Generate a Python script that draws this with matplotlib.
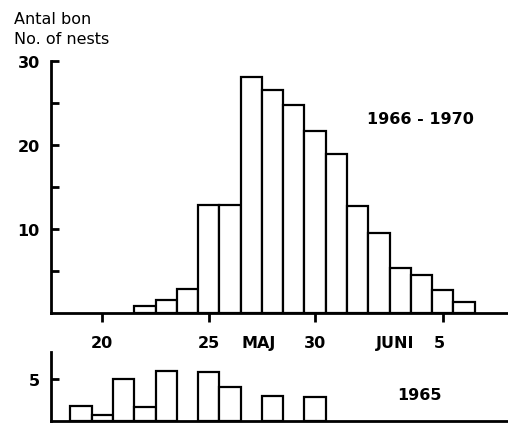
import matplotlib
matplotlib.use("Agg")
import matplotlib.pyplot as plt

# 1966-1970: nests started per day (day of May; 32 = 1 June)
days_a = [22, 23, 24, 25, 26, 27, 28, 29, 30, 31, 32, 33, 34, 35, 36, 37]
nests_a = [0.8, 1.6, 2.8, 12.8, 12.8, 28.1, 26.5, 24.7, 21.6, 18.9, 12.7, 9.5, 5.3, 4.5, 2.7, 1.3]

# 1965
days_b = [19, 20, 21, 22, 23, 25, 26, 28, 30]
nests_b = [1.8, 0.7, 5.0, 1.6, 5.9, 5.8, 4.1, 3.0, 2.9]

xtick_pos = [20, 25, 30, 36]
xlab_pos = [20, 25, 27.35, 30, 33.75, 35.85]
xlab_txt = ['20', '25', 'MAJ', '30', 'JUNI', '5']

W, H = 508, 427
fig = plt.figure(figsize=(W / 100, H / 100), dpi=100)

lw = 2.0
bold = dict(fontweight='bold', fontsize=11.5, family='DejaVu Sans')

# upper panel
ax = fig.add_axes([51 / W, 1 - 314 / H, (W - 51) / W + 0.01, 252.3 / H])
ax.bar(days_a, nests_a, width=1, facecolor='white', edgecolor='black', linewidth=1.6)
ax.set_xlim(17.59, 39.3)
ax.set_ylim(0, 30)
for s in ['top', 'right']:
    ax.spines[s].set_visible(False)
for s in ['left', 'bottom']:
    ax.spines[s].set_linewidth(lw)
ax.set_yticks([10, 20, 30])
ax.set_yticklabels(['10', '20', '30'], **bold)
ax.set_yticks([5, 15, 25], minor=True)
ax.tick_params(axis='y', which='both', direction='in', length=6, width=lw, pad=8)
ax.set_xticks(xtick_pos)
ax.set_xticklabels([])
ax.tick_params(axis='x', direction='out', length=6.5, width=lw)
for xp, t in zip(xlab_pos, xlab_txt):
    ax.text(xp, -0.136, t, transform=ax.get_xaxis_transform(),
            ha='center', va='baseline', **bold)

# lower panel
ax2 = fig.add_axes([51 / W, 1 - 421.7 / H, (W - 51) / W + 0.01, 68.4 / H])
ax2.bar(days_b, nests_b, width=1, facecolor='white', edgecolor='black', linewidth=1.6)
ax2.set_xlim(17.59, 39.3)
ax2.set_ylim(0, 8.2)
for s in ['top', 'right']:
    ax2.spines[s].set_visible(False)
for s in ['left', 'bottom']:
    ax2.spines[s].set_linewidth(lw)
ax2.set_xticks([])
ax2.set_yticks([5])
ax2.set_yticklabels(['5'], **bold)
ax2.tick_params(axis='y', direction='in', length=6, width=lw, pad=8)

fig.text(420 / W, 1 - 120 / H, '1966 - 1970', ha='center', va='center', **bold)
fig.text(419 / W, 1 - 396 / H, '1965', ha='center', va='center', **bold)
fig.text(14 / W, 1 - 24 / H, 'Antal bon', ha='left', va='baseline', fontsize=11.5)
fig.text(14 / W, 1 - 44.5 / H, 'No. of nests', ha='left', va='baseline', fontsize=11.5)

fig.savefig('out.png', dpi=100)
